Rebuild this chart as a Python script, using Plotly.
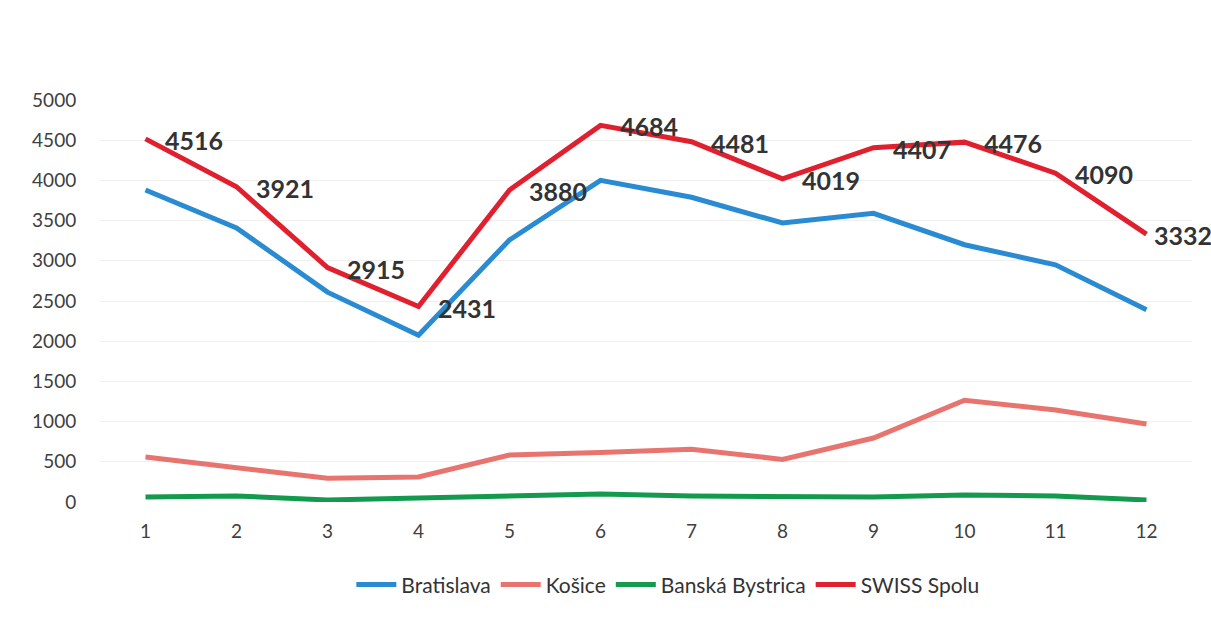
import plotly.graph_objects as go

months = list(range(1, 13))
bratislava = [3880, 3410, 2610, 2075, 3260, 4000, 3790, 3470, 3590, 3200, 2950, 2390]
kosice = [560, 435, 295, 311, 585, 615, 655, 530, 796, 1265, 1144, 970]
banska = [62, 75, 25, 50, 62, 100, 75, 62, 62, 87, 75, 25]
swiss = [4516, 3921, 2915, 2431, 3880, 4684, 4481, 4019, 4407, 4476, 4090, 3332]

y_ticks = [0, 500, 1000, 1500, 2000, 2500, 3000, 3500, 4000, 4500, 5000]

series = [
    ("Bratislava", bratislava, "#2a8bd2"),
    ("Košice", kosice, "#e8746f"),
    ("Banská Bystrica", banska, "#149a4e"),
    ("SWISS Spolu", swiss, "#e0202f"),
]

FONT = "Lato"

fig = go.Figure()
for name, vals, color in series:
    fig.add_trace(go.Scatter(
        x=months, y=vals, name=name, mode="lines",
        line=dict(color=color, width=5),
    ))

for i, (m, v) in enumerate(zip(months, swiss)):
    fig.add_annotation(
        x=m, y=v, xref="x", yref="y", text=f"<b>{v}</b>",
        showarrow=False, xanchor="left", yanchor="middle",
        xshift=5 if i == len(months) - 1 else 17, yshift=-1,
        font=dict(family=FONT, size=25, color="#333333"),
    )

fig.update_layout(
    width=1211, height=619,
    margin=dict(l=100, r=19, t=100, b=117),
    paper_bgcolor="white", plot_bgcolor="white",
    font=dict(family=FONT, size=19, color="#404040"),
    showlegend=True,
    legend=dict(
        orientation="h", x=0.52, xanchor="center", y=-0.155, yanchor="top",
        font=dict(family=FONT, size=21, color="#333333"),
        itemwidth=40, tracegroupgap=0,
    ),
)
fig.update_xaxes(
    range=[0.5, 12.5], tickvals=months, showgrid=False, zeroline=False, showline=False,
    ticks="outside", ticklen=12, tickcolor="rgba(0,0,0,0)",
    tickfont=dict(family=FONT, size=19, color="#404040"),
)
fig.update_yaxes(
    range=[0, 5000], tickvals=y_ticks, showgrid=True, gridcolor="#efefef", gridwidth=1,
    zeroline=False, showline=False,
    ticks="outside", ticklen=19, tickcolor="rgba(0,0,0,0)",
    tickfont=dict(family=FONT, size=19, color="#404040"),
)

fig.write_html("out.html", config={"displayModeBar": False},
               post_script="document.body.style.margin='0';")
